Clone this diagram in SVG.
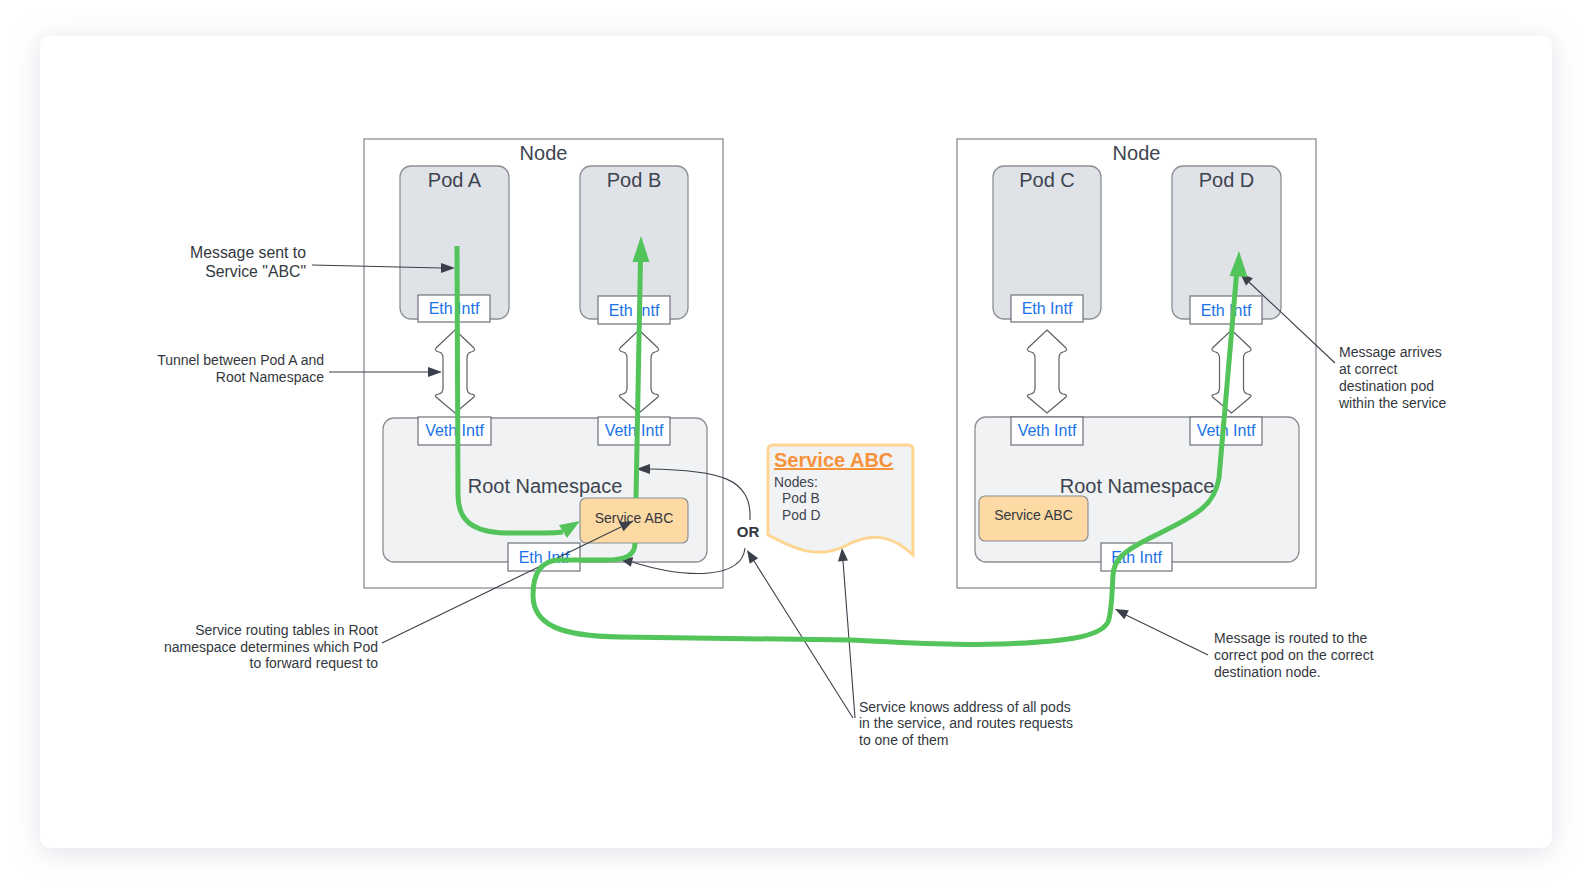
<svg xmlns="http://www.w3.org/2000/svg" xmlns:xlink="http://www.w3.org/1999/xlink" width="1592" height="893" viewBox="0 0 1592 893">
<defs>
<filter id="shadow" x="-10%" y="-10%" width="120%" height="130%">
<feDropShadow dx="0" dy="4" stdDeviation="14" flood-color="#a8a8c0" flood-opacity="0.35"/>
</filter>
<path id="dbl" d="M0,330 L19,348 Q21,351 16,352 Q12,353 12,358 L12,388 Q12,393 16,394 Q21,395 19,397 L0,413 L-19,397 Q-21,395 -16,394 Q-12,393 -12,388 L-12,358 Q-12,353 -16,352 Q-21,351 -19,348 Z"/>
</defs>
<style>
.node{fill:#ffffff;stroke:#8c8f94;stroke-width:1.3}
.pod{fill:#dfe2e7;stroke:#8c8f94;stroke-width:1.3}
.ns{fill:#f1f2f4;stroke:#8c8f94;stroke-width:1.3}
.intf{fill:#ffffff;stroke:#6d7178;stroke-width:1.2}
.svc{fill:#fdd9a3;stroke:#8c8f94;stroke-width:1.2}
.dbl{fill:#ffffff;stroke:#5c6068;stroke-width:1.2}
.t{font-family:"Liberation Sans",Arial,sans-serif;fill:#3d4450}
.big{font-size:20px;text-anchor:middle}
.ns-t{font-size:20px;text-anchor:middle}
.it{font-family:"Liberation Sans",Arial,sans-serif;font-size:16px;fill:#1a73e8;text-anchor:middle}
.svt{font-size:14px;text-anchor:middle;fill:#333840}
.ann{font-family:"Liberation Sans",Arial,sans-serif;font-size:14px;fill:#333840}
.ann15{font-size:15.8px}
.green{fill:none;stroke:#52c45a;stroke-width:5;stroke-linecap:butt;stroke-linejoin:round}
.gh{fill:#52c45a}
.line{fill:none;stroke:#3a3f4a;stroke-width:1.1}
.ah{fill:#3a3f4a}
</style>
<rect x="40" y="36" width="1512" height="812" rx="10" fill="#ffffff" filter="url(#shadow)"/>

<g id="node-left">
<rect class="node" x="364" y="139" width="359" height="449"/>
<text class="t big" x="543.5" y="160">Node</text>
</g>
<g id="pod-a">
<rect class="pod" x="400" y="166" width="109" height="153" rx="11"/>
<text class="t big" x="454.5" y="187">Pod A</text>
<rect class="intf" x="418" y="295" width="72" height="27"/>
<text class="it" x="454" y="314">Eth Intf</text>
</g>
<g id="pod-b">
<rect class="pod" x="580" y="166" width="108" height="153" rx="11"/>
<text class="t big" x="634" y="187">Pod B</text>
<rect class="intf" x="598" y="296" width="72" height="28"/>
<text class="it" x="634" y="316">Eth Intf</text>
</g>
<g id="tunnel-a"><use href="#dbl" class="dbl" x="455"/></g>
<g id="tunnel-b"><use href="#dbl" class="dbl" x="639"/></g>
<g id="root-ns-left">
<rect class="ns" x="383" y="418" width="324" height="144" rx="11"/>
<text class="t ns-t" x="545" y="493">Root Namespace</text>
<rect class="intf" x="418" y="417" width="73" height="28"/>
<text class="it" x="454.5" y="436">Veth Intf</text>
<rect class="intf" x="598" y="417" width="72" height="28"/>
<text class="it" x="634" y="436">Veth Intf</text>
<rect class="svc" x="580" y="498" width="108" height="45" rx="6"/>
<text class="t svt" x="634" y="523">Service ABC</text>
<rect class="intf" x="508" y="543" width="72" height="28"/>
<text class="it" x="544" y="563">Eth Intf</text>
</g>

<g id="node-right">
<rect class="node" x="957" y="139" width="359" height="449"/>
<text class="t big" x="1136.5" y="160">Node</text>
</g>
<g id="pod-c">
<rect class="pod" x="993" y="166" width="108" height="153" rx="11"/>
<text class="t big" x="1047" y="187">Pod C</text>
<rect class="intf" x="1011" y="295" width="72" height="27"/>
<text class="it" x="1047" y="314">Eth Intf</text>
</g>
<g id="pod-d">
<rect class="pod" x="1172" y="166" width="109" height="153" rx="11"/>
<text class="t big" x="1226.5" y="187">Pod D</text>
<rect class="intf" x="1190" y="296" width="72" height="28"/>
<text class="it" x="1226" y="316">Eth Intf</text>
</g>
<g id="tunnel-c"><use href="#dbl" class="dbl" x="1047"/></g>
<g id="tunnel-d"><use href="#dbl" class="dbl" x="1231.5"/></g>
<g id="root-ns-right">
<rect class="ns" x="975" y="417" width="324" height="145" rx="11"/>
<text class="t ns-t" x="1137" y="493">Root Namespace</text>
<rect class="intf" x="1011" y="417" width="72" height="28"/>
<text class="it" x="1047" y="436">Veth Intf</text>
<rect class="intf" x="1190" y="417" width="72" height="28"/>
<text class="it" x="1226" y="436">Veth Intf</text>
<rect class="svc" x="979" y="496" width="109" height="45" rx="6"/>
<text class="t svt" x="1033.5" y="520">Service ABC</text>
<rect class="intf" x="1101" y="543" width="71" height="28"/>
<text class="it" x="1136.5" y="563">Eth Intf</text>
</g>

<g id="service-note">
<path d="M768,450 Q768,445 773,445 L908,445 Q913,445 913,450 L913,555 C895,538 875,530 845,546 C815,561 790,546 768,535 Z" fill="#f1f2f4" stroke="#ffd594" stroke-width="3"/>
<text x="774" y="467" font-family="Liberation Sans,Arial,sans-serif" font-size="20" font-weight="bold" fill="#f7923a" text-decoration="underline">Service ABC</text>
<text class="t" x="774" y="487" font-size="13.8">Nodes:</text>
<text class="t" x="782" y="503" font-size="13.8">Pod B</text>
<text class="t" x="782" y="520" font-size="13.8">Pod D</text>
</g>

<g id="labels">
<text class="ann ann15" x="306" y="258" text-anchor="end">Message sent to</text>
<text class="ann ann15" x="306" y="277" text-anchor="end">Service "ABC"</text>
<text class="ann" x="324" y="365" text-anchor="end">Tunnel between Pod A and</text>
<text class="ann" x="324" y="382" text-anchor="end">Root Namespace</text>
<text class="ann" x="378" y="635" text-anchor="end">Service routing tables in Root</text>
<text class="ann" x="378" y="652" text-anchor="end">namespace determines which Pod</text>
<text class="ann" x="378" y="668" text-anchor="end">to forward request to</text>
<text class="ann" x="859" y="712">Service knows address of all pods</text>
<text class="ann" x="859" y="728">in the service, and routes requests</text>
<text class="ann" x="859" y="745">to one of them</text>
<text class="ann" x="1339" y="357">Message arrives</text>
<text class="ann" x="1339" y="374">at correct</text>
<text class="ann" x="1339" y="391">destination pod</text>
<text class="ann" x="1339" y="408">within the service</text>
<text class="ann" x="1214" y="643">Message is routed to the</text>
<text class="ann" x="1214" y="660">correct pod on the correct</text>
<text class="ann" x="1214" y="677">destination node.</text>
<text x="748" y="537" font-family="Liberation Sans,Arial,sans-serif" font-size="15" font-weight="bold" fill="#333840" text-anchor="middle">OR</text>
</g>

<g id="connectors">
<path class="line" d="M750,520 C752,478 720,470 648,469"/>
<polygon class="ah" points="636,469 650,464 650,474"/>
<path class="line" d="M745,548 C742,578 690,580 632,562"/>
<polygon class="ah" points="620,559 633.2,557.2 630.8,566.8"/>
<path class="line" d="M312,265 L442,268"/>
<polygon class="ah" points="455,268 441,263 441,273"/>
<path class="line" d="M329,372 L429,372"/>
<polygon class="ah" points="442,372 428,367 428,377"/>
<path class="line" d="M382,643 L621,527"/>
<polygon class="ah" points="633,521 623.5,531.2 619.1,522.2"/>
<path class="line" d="M853,718 L754,561"/>
<polygon class="ah" points="747,550 758.1,558.3 749.7,563.7"/>
<path class="line" d="M855,718 L843,561"/>
<polygon class="ah" points="842,548 848,560.6 838,561.4"/>
<path class="line" d="M1335,363 L1249,282"/>
<polygon class="ah" points="1240,273 1252.8,278.3 1246,285.5"/>
<path class="line" d="M1208,655 L1126,615"/>
<polygon class="ah" points="1115,609 1128.8,610.3 1124.4,619.3"/>

<path class="green" d="M457,246 L458,495 C458,520 472,532 505,533 L545,533 Q555,533 563,532"/>
<polygon class="gh" points="580,521 567,538 559,525"/>
<path class="green" d="M636,498 L640.5,260"/>
<polygon class="gh" points="641,236 649.5,262 632.5,262"/>
<path class="green" d="M635,543 C635,556 625,560 605,560 L560,560 C540,560 533,575 533,595 C533,625 560,636 620,637 L850,640 C900,642 950,646 1000,644 C1060,642 1100,638 1108,622 C1112,612 1112,590 1113,575 C1114,560 1122,552 1150,538 C1200,514 1214,505 1219,478 L1236.5,275"/>
<polygon class="gh" points="1239,251 1247.5,277 1229.5,276"/>
</g>
</svg>
